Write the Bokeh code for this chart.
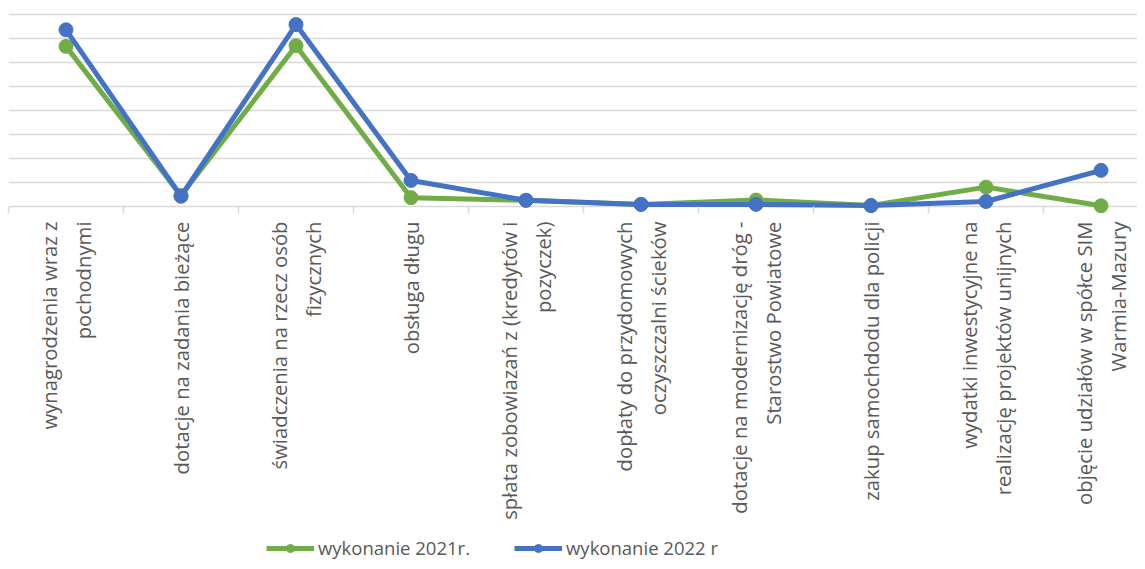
import math
from bokeh.plotting import figure
from bokeh.layouts import column
from bokeh.models import FixedTicker, Legend, LegendItem, Range1d, ColumnDataSource
from bokeh.embed import file_html
from bokeh.resources import INLINE

categories = [
    "wynagrodzenia wraz z\npochodnymi",
    "dotacje na zadania bieżące",
    "świadczenia na rzecz osób\nfizycznych",
    "obsługa długu",
    "spłata zobowiazań z (kredytów i\npozyczek)",
    "dopłaty do przydomowych\noczyszczalni ścieków",
    "dotacje na modernizację dróg -\nStarostwo Powiatowe",
    "zakup samochdodu dla policji",
    "wydatki inwestycyjne na\nrealizację projektów unijnych",
    "objęcie udziałów w spółce SIM\nWarmia-Mazury",
]
values_2021 = [6.67, 0.45, 6.70, 0.36, 0.25, 0.08, 0.26, 0.03, 0.80, 0.02]
values_2022 = [7.36, 0.42, 7.58, 1.08, 0.25, 0.08, 0.08, 0.03, 0.20, 1.50]
series_names = ["wykonanie 2021r.", "wykonanie 2022 r"]
y_ticks = [0, 1, 2, 3, 4, 5, 6, 7, 8]

FONT = "Open Sans"
TXT = "#595959"
GRID = "#d9d9d9"
GREEN = "#70ad47"
BLUE = "#4472c4"

xs = [i + 0.5 for i in range(len(categories))]
src = ColumnDataSource(dict(x=xs, y21=values_2021, y22=values_2022))

# main chart
p = figure(width=1137, height=535, output_backend="svg", toolbar_location=None,
           x_range=Range1d(0, 9.817), y_range=Range1d(-0.3, 8.25),
           min_border_top=8, min_border_left=8, min_border_right=0, min_border_bottom=322)
p.outline_line_color = None
p.background_fill_color = "white"
p.border_fill_color = "white"

p.yaxis.visible = False
p.yaxis.ticker = FixedTicker(ticks=y_ticks)
p.ygrid.grid_line_color = GRID
p.ygrid.grid_line_width = 1.5
p.xgrid.grid_line_color = None

ax = p.xaxis[0]
ax.ticker = FixedTicker(ticks=xs, minor_ticks=list(range(len(categories) + 1)))
ax.major_label_overrides = {x: c for x, c in zip(xs, categories)}
ax.major_label_orientation = math.pi / 2
ax.major_label_text_font = FONT
ax.major_label_text_font_size = "20.3px"
ax.major_label_text_color = TXT
ax.major_label_standoff = 8
ax.axis_line_color = None
ax.major_tick_line_color = None
ax.major_tick_in = 0
ax.major_tick_out = 0
ax.minor_tick_line_color = GRID
ax.minor_tick_line_width = 1.5
ax.minor_tick_in = 7
ax.minor_tick_out = 0

p.line("x", "y21", source=src, line_color=GREEN, line_width=5, line_join="round")
p.scatter("x", "y21", source=src, size=14, marker="circle", fill_color=GREEN, line_color=GREEN)
p.line("x", "y22", source=src, line_color=BLUE, line_width=5, line_join="round")
p.scatter("x", "y22", source=src, size=14, marker="circle", fill_color=BLUE, line_color=BLUE)

# legend strip below the chart (its series lie outside its view; only the legend shows)
lf = figure(width=1137, height=26, output_backend="svg", toolbar_location=None,
            x_range=Range1d(0, 9.817), y_range=Range1d(-101, -100),
            x_axis_location=None, y_axis_location=None,
            min_border_top=0, min_border_left=0, min_border_right=0, min_border_bottom=0)
lf.outline_line_color = None
lf.xgrid.visible = False
lf.ygrid.visible = False
g1 = lf.line("x", "y21", source=src, line_color=GREEN, line_width=5)
g2 = lf.scatter("x", "y21", source=src, size=14, marker="circle", fill_color=GREEN, line_color=GREEN)
b1 = lf.line("x", "y22", source=src, line_color=BLUE, line_width=5)
b2 = lf.scatter("x", "y22", source=src, size=14, marker="circle", fill_color=BLUE, line_color=BLUE)

legend = Legend(items=[LegendItem(label=series_names[0], renderers=[g1, g2]),
                       LegendItem(label=series_names[1], renderers=[b1, b2])],
                orientation="horizontal", location=(258, 1),
                glyph_width=48, glyph_height=20, label_standoff=4, spacing=44,
                label_text_font=FONT, label_text_font_size="18.5px", label_text_color=TXT,
                border_line_color=None, background_fill_alpha=0, padding=2, margin=0)
lf.add_layout(legend, "center")

open("out.html", "w").write(file_html(column(p, lf, spacing=0), INLINE))
